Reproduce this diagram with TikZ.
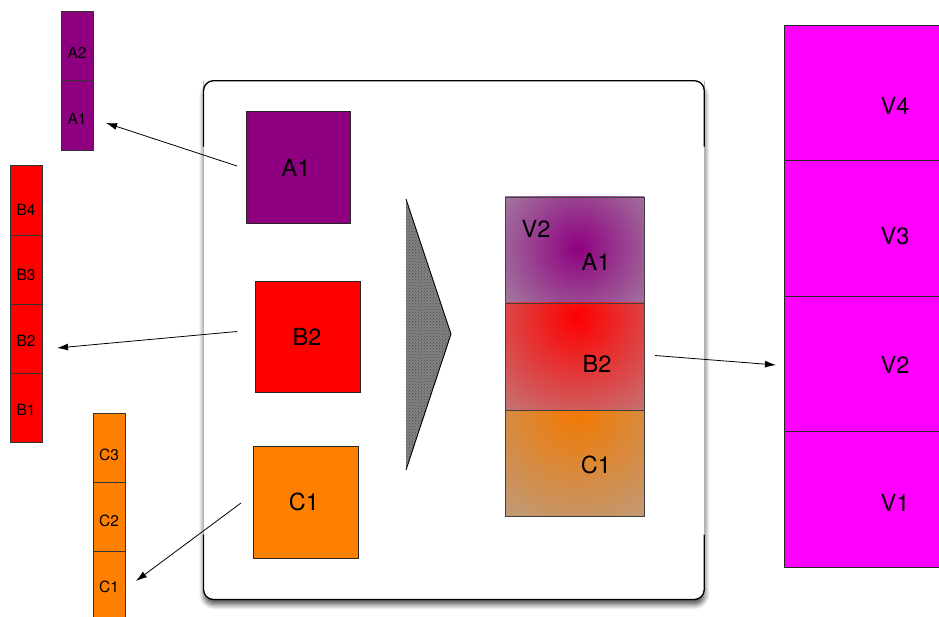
\documentclass[tikz,border=0pt]{standalone}
\usepackage{fontspec}
\setmainfont{TeX Gyre Heros}
\usetikzlibrary{arrows.meta,calc,shadows.blur,patterns}

\definecolor{plum}{RGB}{142,0,128}
\definecolor{vred}{RGB}{255,0,0}
\definecolor{vorange}{RGB}{255,127,0}
\definecolor{vmag}{RGB}{255,0,255}
\definecolor{fadegray}{RGB}{170,168,170}
\definecolor{wedgegray}{RGB}{130,130,130}

\tikzset{
  cell/.style={draw=black!80, line width=0.8pt, inner sep=0pt, outer sep=0pt,
               minimum width=32pt, minimum height=69pt},
  bigbox/.style={draw=black!85, line width=0.9pt, inner sep=0pt, outer sep=0pt,
                 minimum width=105pt, minimum height=112pt},
  fadecell/.style={draw=black!75, line width=0.9pt, inner sep=0pt, outer sep=0pt,
                   minimum width=139pt, minimum height=106pt, fill=fadegray},
  vcell/.style={draw=black!85, line width=0.8pt, inner sep=0pt, outer sep=0pt,
                fill=vmag, minimum width=166pt},
  smalltag/.style={inner sep=0pt, font=\fontsize{15.5}{16}\selectfont},
  bigtag/.style={inner sep=0pt, font=\fontsize{23.5}{24}\selectfont},
  link/.style={line width=0.8pt, -{Latex[length=11pt,width=7pt]}},
  rim/.style={line width=1.3pt, rounded corners=10pt},
}

\begin{document}
\begin{tikzpicture}[x=1pt, y=-1pt]
  \clip (0,0) rectangle (939,617);

  % ---- container panel with soft shadow ----
  \node[fill=white, rounded corners=10pt, minimum width=500.8pt, minimum height=518.8pt,
        inner sep=0pt, outer sep=0pt,
        blur shadow={shadow xshift=0.5pt, shadow yshift=-5pt, shadow blur radius=5pt,
                     shadow blur steps=8, shadow opacity=70}]
        (panel) at (453.9,340.1) {};
  \draw[black!30, line width=1pt] (panel.north west) -- (panel.south west);
  \draw[black!30, line width=1pt] (panel.north east) -- (panel.south east);
  \draw[rim] ($(panel.north west)+(0,66)$) -- (panel.north west) -- (panel.north east)
             -- ($(panel.north east)+(0,66)$);
  \draw[rim] ($(panel.south west)+(0,-65)$) -- (panel.south west) -- (panel.south east)
             -- ($(panel.south east)+(0,-65)$);

  % ---- stack A ----
  \node[cell, fill=plum] (a2) at (77,45.5) {};
  \node[cell, fill=plum, minimum height=70pt] (a1) at (77,115) {};
  \node[smalltag] (ta2) at (77,53) {A2};
  \node[smalltag] (ta1) at (77,119) {A1};

  % ---- stack B ----
  \node[cell, fill=vred, minimum height=70pt] (b4) at (26,200.7) {};
  \node[cell, fill=vred] (b3) at (26,270.2) {};
  \node[cell, fill=vred] (b2) at (26,339.2) {};
  \node[cell, fill=vred] (b1) at (26,408.3) {};
  \node[smalltag] (tb4) at (26,209.5) {B4};
  \node[smalltag] (tb3) at (26,274.7) {B3};
  \node[smalltag] (tb2) at (26,340.5) {B2};
  \node[smalltag] (tb1) at (26,409.7) {B1};

  % ---- stack C ----
  \node[cell, fill=vorange] (c3) at (109,447.7) {};
  \node[cell, fill=vorange] (c2) at (109,516.7) {};
  \node[cell, fill=vorange, minimum height=70pt] (c1) at (109,586) {};
  \node[smalltag] (tc3) at (109,455) {C3};
  \node[smalltag] (tc2) at (109,521) {C2};
  \node[smalltag] (tc1) at (109,587) {C1};

  % ---- chosen blocks ----
  \node[bigbox, fill=plum, minimum width=104pt] (pa1) at (298,167) {};
  \node[bigbox, fill=vred, minimum height=111pt] (pb2) at (307.5,337) {};
  \node[bigbox, fill=vorange] (pc1) at (305.5,502) {};
  \node[bigtag] (tpa1) at (296,168) {A1};
  \node[bigtag] (tpb2) at (307,337) {B2};
  \node[bigtag] (tpc1) at (304,502) {C1};

  % ---- merge wedge ----
  \fill[wedgegray] (406,199) -- (451,334) -- (406,470) -- cycle;
  \fill[pattern=crosshatch dots, pattern color=black!70] (406,199) -- (451,334) -- (406,470) -- cycle;
  \draw[line width=0.9pt, line join=miter] (406,199) -- (451,334) -- (406,470);

  % ---- merged version V2 ----
  \node[fadecell, path picture={
      \shade[inner color=plum, outer color=fadegray]
        ($(path picture bounding box.center)+(3.5,-2)$) circle (125);}]
      (g1) at (574.5,250) {};
  \node[fadecell, minimum height=107pt, path picture={
      \shade[inner color=vred, outer color=fadegray]
        ($(path picture bounding box.center)+(2.5,-39.5)$) circle (170);}]
      (g2) at (574.5,356.5) {};
  \node[fadecell, path picture={
      \shade[inner color=vorange!95!black, outer color=fadegray]
        ($(path picture bounding box.center)+(2.5,-53)$) circle (180);}]
      (g3) at (574.5,463) {};
  \node[bigtag] (tgv) at (536,229) {V2};
  \node[bigtag] (tga) at (596,262) {A1};
  \node[bigtag] (tgb) at (597,364) {B2};
  \node[bigtag] (tgc) at (596,464.5) {C1};

  % ---- version stack V ----
  \node[vcell, minimum height=135pt] (v4) at (867,92.5) {};
  \node[vcell, minimum height=136pt] (v3) at (867,228) {};
  \node[vcell, minimum height=135pt] (v2) at (867,363.5) {};
  \node[vcell, minimum height=136pt] (v1) at (867,499) {};
  \node[bigtag] (tv4) at (895,106) {V4};
  \node[bigtag] (tv3) at (895,236) {V3};
  \node[bigtag] (tv2) at (895,365) {V2};
  \node[bigtag] (tv1) at (895,503) {V1};

  % ---- connectors ----
  \coordinate (s1) at (237,166);   \coordinate (e1) at (106,123);
  \coordinate (s2) at (237,331.5); \coordinate (e2) at (57,348);
  \coordinate (s3) at (241,503);   \coordinate (e3) at (136,581);
  \coordinate (s4) at (655,355.5); \coordinate (e4) at (776,365);
  \draw[link] (s1) -- (e1);
  \draw[link] (s2) -- (e2);
  \draw[link] (s3) -- (e3);
  \draw[link] (s4) -- (e4);
\end{tikzpicture}
\end{document}
